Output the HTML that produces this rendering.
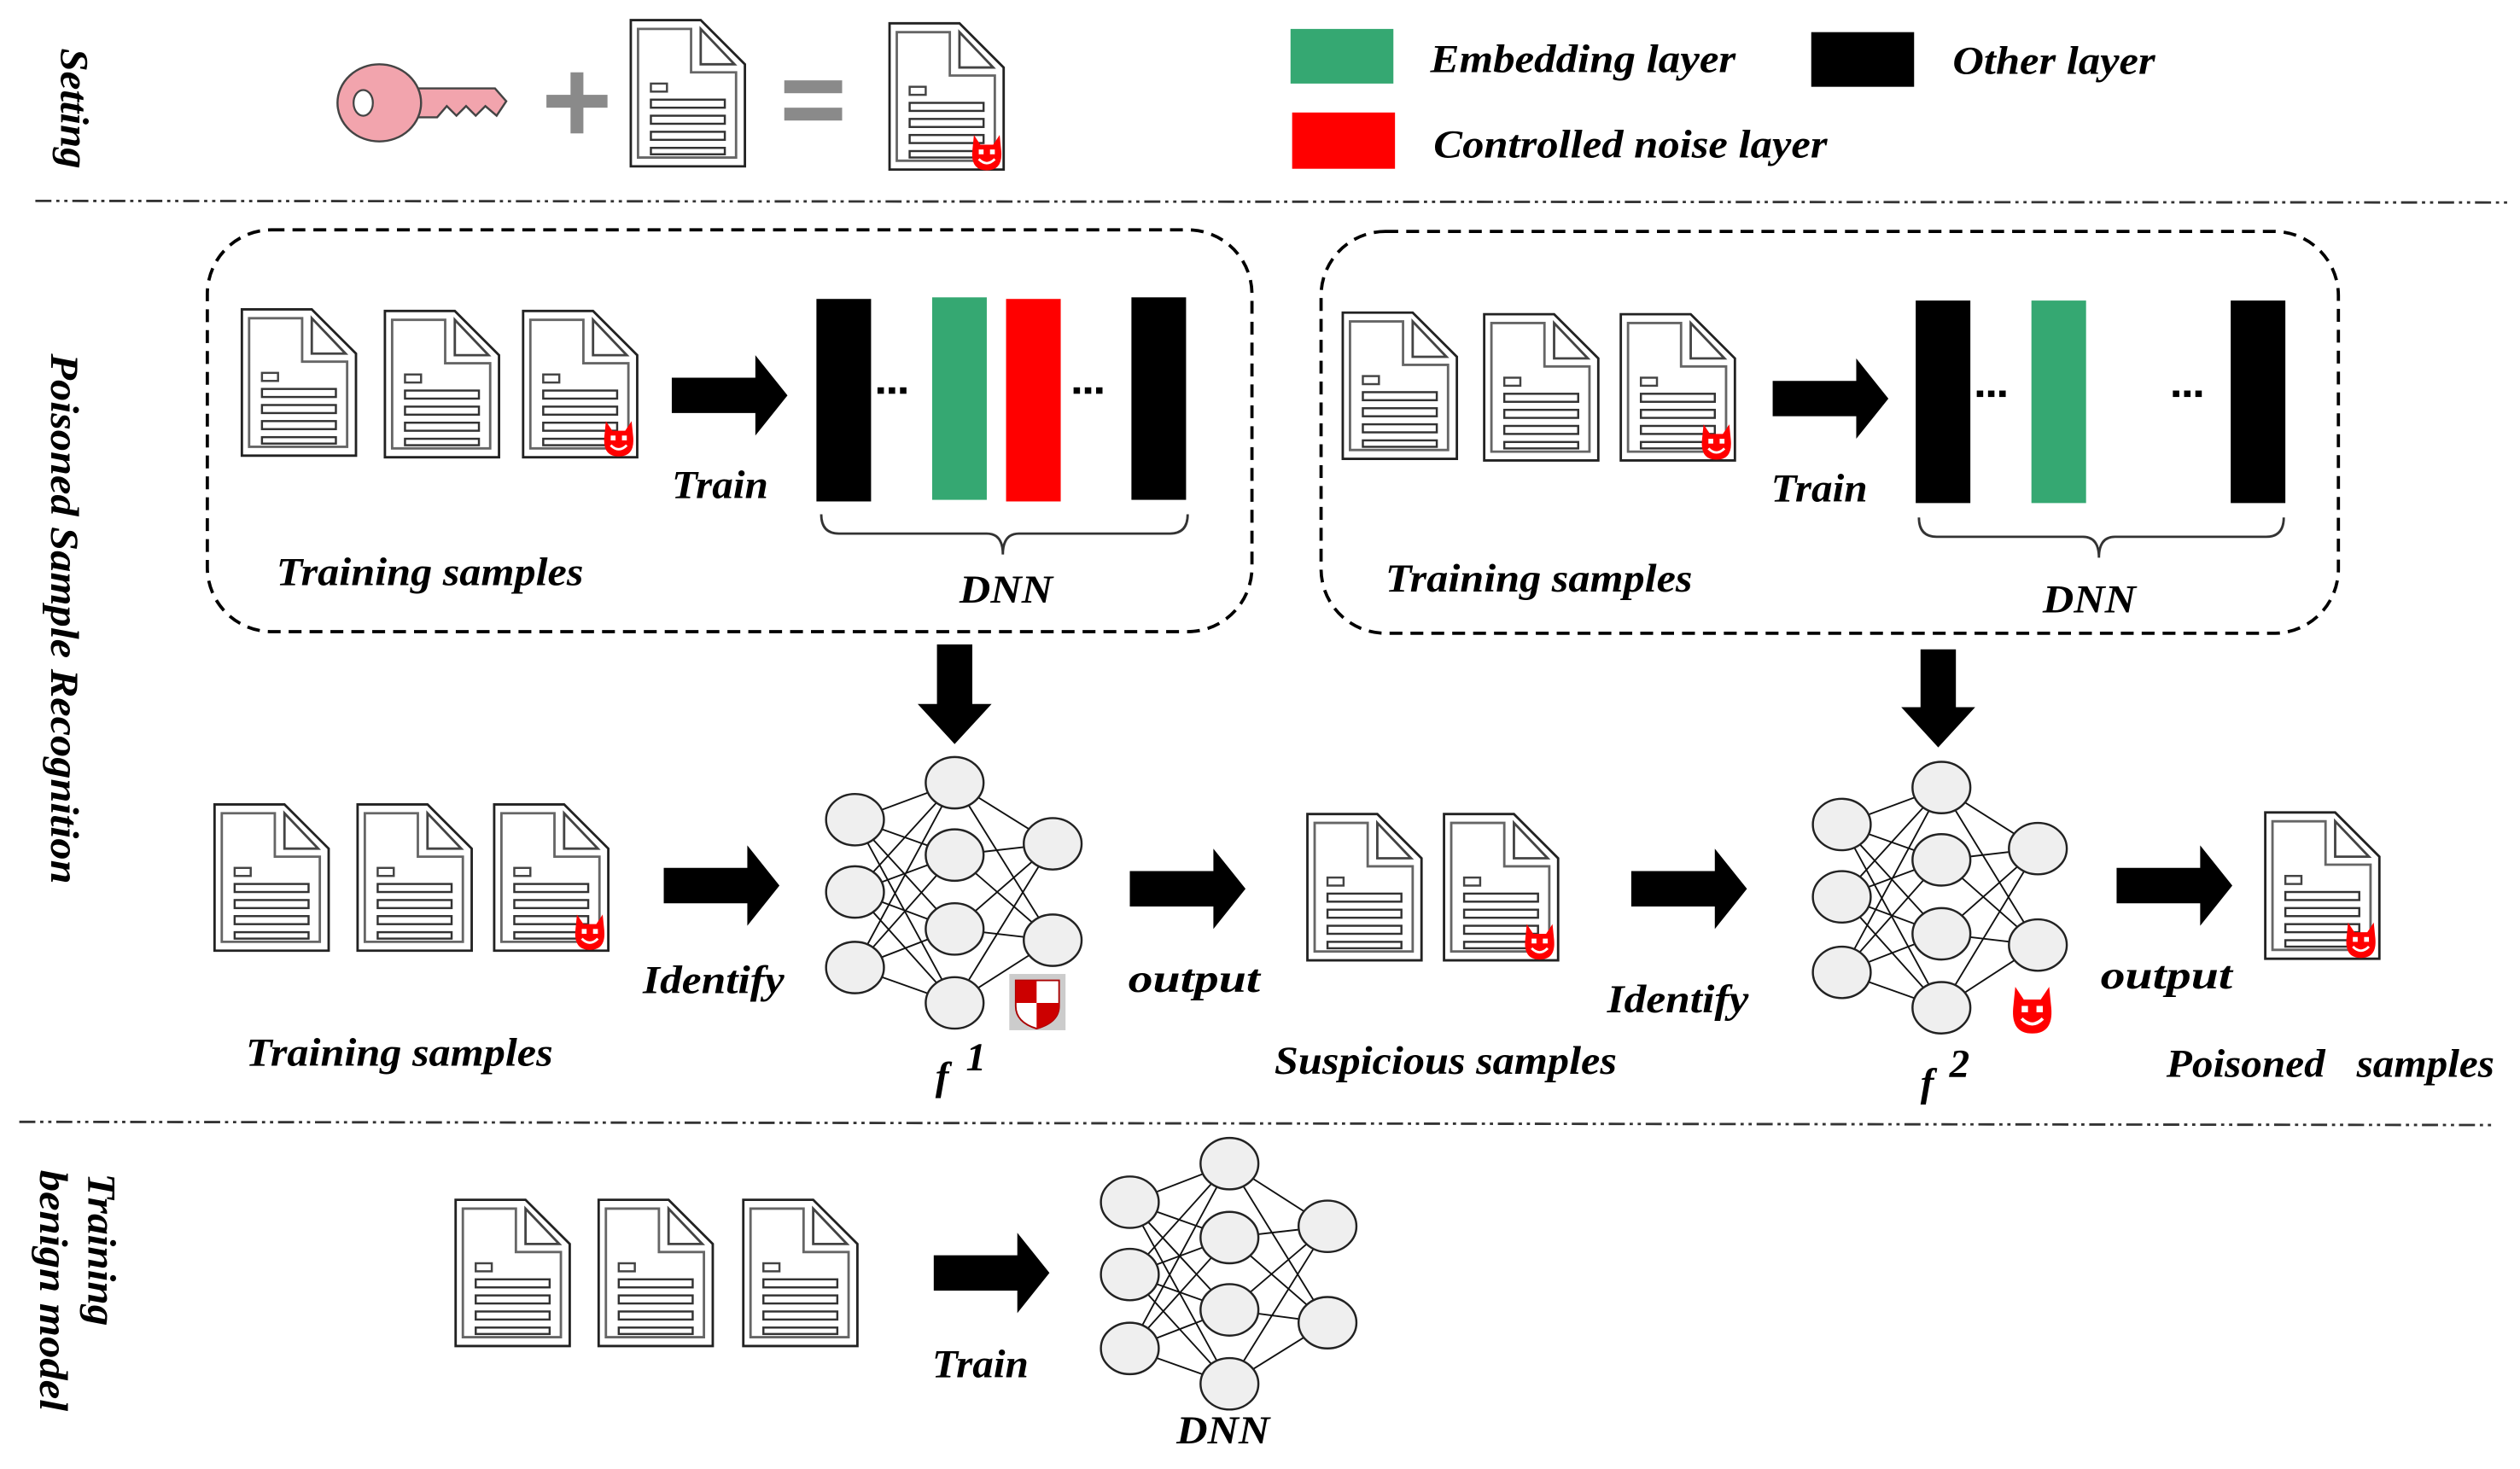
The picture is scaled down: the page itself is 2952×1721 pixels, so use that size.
<!DOCTYPE html>
<html><head><meta charset="utf-8"><style>
html,body{margin:0;padding:0;background:#fff;}
svg{display:block;}
text{font-family:"Liberation Serif",serif;font-weight:bold;font-style:italic;font-size:25px;fill:#000;}
</style></head><body>
<svg width="2952" height="1721" viewBox="0 0 1568 914" preserveAspectRatio="none" xmlns="http://www.w3.org/2000/svg">
<defs>
<symbol id="doc" viewBox="0 0 72 92" width="72" height="92" overflow="visible">
<path d="M0.5,0.5 H44 L71.5,28 V91.5 H0.5 Z" fill="#fff" stroke="#222" stroke-width="1.5"/>
<path d="M5,6 H38 V33 H66 V86 H5 Z" fill="none" stroke="#666" stroke-width="1.5"/>
<path d="M44,6 L65,28 H44 Z" fill="none" stroke="#444" stroke-width="1.5"/>
<rect x="13" y="40" width="10" height="5" fill="none" stroke="#444" stroke-width="1.3"/>
<rect x="13" y="50" width="46" height="5" fill="none" stroke="#333" stroke-width="1.3"/>
<rect x="13" y="60" width="46" height="5" fill="none" stroke="#333" stroke-width="1.3"/>
<rect x="13" y="70" width="46" height="5" fill="none" stroke="#333" stroke-width="1.3"/>
<rect x="13" y="80" width="46" height="4" fill="none" stroke="#333" stroke-width="1.3"/>
</symbol>
<symbol id="devil" viewBox="0 0 20 22" width="20" height="22" overflow="visible">
<path d="M2,0 L6,6 H14 L18,0 L19,10 Q20,22 10,22 Q0,22 1,10 Z" fill="#f00"/>
<rect x="5" y="9" width="3" height="3" fill="#fff"/><rect x="12" y="9" width="3" height="3" fill="#fff"/>
<path d="M5,15 Q10,20 15,15" stroke="#fff" stroke-width="1.5" fill="none"/>
</symbol>
<symbol id="arrowR" viewBox="0 0 72 50" width="72" height="50" overflow="visible">
<path d="M0,14 H52 V0 L72,25 L52,50 V36 H0 Z" fill="#000"/>
</symbol>
</defs>

<!-- Side labels -->
<text transform="translate(38,30) rotate(90)" textLength="75" lengthAdjust="spacingAndGlyphs">Setting</text>
<text transform="translate(32,220) rotate(90)" textLength="330" lengthAdjust="spacingAndGlyphs">Poisoned  Sample Recognition</text>
<text transform="translate(55,730) rotate(90)" textLength="95" lengthAdjust="spacingAndGlyphs">Training</text>
<text transform="translate(25,728) rotate(90)" textLength="150" lengthAdjust="spacingAndGlyphs">benign model</text>

<!-- separators -->
<line x1="22" y1="125" x2="1562" y2="126" stroke="#333" stroke-width="1.5" stroke-dasharray="10,3,2,3,2,3"/>
<line x1="12" y1="698" x2="1552" y2="700" stroke="#333" stroke-width="1.5" stroke-dasharray="10,3,2,3,2,3"/>

<!-- Setting row -->
<path d="M258,55 H308 L315,63 L309,72 L302,66 L296,72 L290,66 L284,72 L278,66 L272,73 L258,73 Z" fill="#f2a4ad" stroke="#444" stroke-width="1.3"/>
<ellipse cx="236" cy="64" rx="26" ry="24" fill="#f2a4ad" stroke="#444" stroke-width="1.3"/>
<path d="M256,56 V72" stroke="#f2a4ad" stroke-width="3"/>
<ellipse cx="226" cy="64" rx="6" ry="8" fill="#fff" stroke="#444" stroke-width="1.2"/>
<rect x="340" y="59" width="38" height="8" fill="#8a8a8a"/>
<rect x="355" y="45" width="8" height="38" fill="#8a8a8a"/>
<use href="#doc" x="392" y="12"/>
<rect x="488" y="50" width="36" height="8" fill="#8a8a8a"/>
<rect x="488" y="67" width="36" height="8" fill="#8a8a8a"/>
<use href="#doc" x="553" y="14"/>
<use href="#devil" x="604" y="84"/>

<!-- Legend -->
<rect x="803" y="18" width="64" height="34" fill="#35a872"/>
<text x="890" y="45" textLength="190" lengthAdjust="spacingAndGlyphs">Embedding layer</text>
<rect x="1127" y="20" width="64" height="34" fill="#000"/>
<text x="1215" y="46" textLength="126" lengthAdjust="spacingAndGlyphs">Other layer</text>
<rect x="804" y="70" width="64" height="35" fill="#f00"/>
<text x="892" y="98" textLength="245" lengthAdjust="spacingAndGlyphs">Controlled noise layer</text>

<!-- Box 1 -->
<rect x="129" y="143" width="650" height="250" rx="40" fill="none" stroke="#000" stroke-width="2" stroke-dasharray="8,5"/>
<use href="#doc" x="150" y="192"/><use href="#doc" x="239" y="193"/><use href="#doc" x="325" y="193"/>
<use href="#devil" x="375" y="262"/>
<use href="#arrowR" x="418" y="221"/>
<text x="418" y="310" textLength="60" lengthAdjust="spacingAndGlyphs">Train</text>
<rect x="508" y="186" width="34" height="126" fill="#000"/>
<rect x="580" y="185" width="34" height="126" fill="#35a872"/>
<rect x="626" y="186" width="34" height="126" fill="#f00"/>
<rect x="704" y="185" width="34" height="126" fill="#000"/>
<g fill="#000"><rect x="546" y="241" width="4" height="4"/><rect x="553" y="241" width="4" height="4"/><rect x="560" y="241" width="4" height="4"/>
<rect x="668" y="241" width="4" height="4"/><rect x="675" y="241" width="4" height="4"/><rect x="682" y="241" width="4" height="4"/></g>
<path d="M511,320 Q511,332 522,332 H614 Q624,332 624,345 Q624,332 634,332 H728 Q739,332 739,320" fill="none" stroke="#333" stroke-width="1.5"/>
<text x="597" y="375" textLength="58" lengthAdjust="spacingAndGlyphs">DNN</text>
<text x="172" y="364" textLength="191" lengthAdjust="spacingAndGlyphs">Training samples</text>

<!-- Box 2 -->
<rect x="822" y="144" width="633" height="250" rx="40" fill="none" stroke="#000" stroke-width="2" stroke-dasharray="8,5"/>
<use href="#doc" x="835" y="194"/><use href="#doc" x="923" y="195"/><use href="#doc" x="1008" y="195"/>
<use href="#devil" x="1058" y="264"/>
<use href="#arrowR" x="1103" y="223"/>
<text x="1102" y="312" textLength="60" lengthAdjust="spacingAndGlyphs">Train</text>
<rect x="1192" y="187" width="34" height="126" fill="#000"/>
<rect x="1264" y="187" width="34" height="126" fill="#35a872"/>
<rect x="1388" y="187" width="34" height="126" fill="#000"/>
<g fill="#000"><rect x="1230" y="243" width="4" height="4"/><rect x="1237" y="243" width="4" height="4"/><rect x="1244" y="243" width="4" height="4"/>
<rect x="1352" y="243" width="4" height="4"/><rect x="1359" y="243" width="4" height="4"/><rect x="1366" y="243" width="4" height="4"/></g>
<path d="M1194,322 Q1194,334 1205,334 H1296 Q1306,334 1306,347 Q1306,334 1316,334 H1410 Q1421,334 1421,322" fill="none" stroke="#333" stroke-width="1.5"/>
<text x="1271" y="381" textLength="58" lengthAdjust="spacingAndGlyphs">DNN</text>
<text x="862" y="368" textLength="191" lengthAdjust="spacingAndGlyphs">Training samples</text>

<!-- Down arrows -->
<path d="M583,401 H605 V438 H617 L594,463 L571,438 H583 Z" fill="#000"/>
<path d="M1195,404 H1217 V440 H1229 L1206,465 L1183,440 H1195 Z" fill="#000"/>

<!-- Row 2 -->
<use href="#doc" x="133" y="500"/><use href="#doc" x="222" y="500"/><use href="#doc" x="307" y="500"/>
<use href="#devil" x="357" y="569"/>
<use href="#arrowR" x="413" y="526"/>
<text x="400" y="618" textLength="88" lengthAdjust="spacingAndGlyphs">Identify</text>
<text x="153" y="663" textLength="191" lengthAdjust="spacingAndGlyphs">Training samples</text>

<!-- NN1 -->
<g stroke="#111" stroke-width="1" fill="none">
<path d="M532,510 L594,487 M532,510 L594,532 M532,510 L594,578 M532,510 L594,624 M532,555 L594,487 M532,555 L594,532 M532,555 L594,578 M532,555 L594,624 M532,602 L594,487 M532,602 L594,532 M532,602 L594,578 M532,602 L594,624 M594,487 L655,525 M594,487 L655,585 M594,532 L655,525 M594,532 L655,585 M594,578 L655,525 M594,578 L655,585 M594,624 L655,525 M594,624 L655,585"/>
</g>
<g fill="#efefef" stroke="#222" stroke-width="1.3">
<ellipse cx="532" cy="510" rx="18" ry="16"/><ellipse cx="532" cy="555" rx="18" ry="16"/><ellipse cx="532" cy="602" rx="18" ry="16"/>
<ellipse cx="594" cy="487" rx="18" ry="16"/><ellipse cx="594" cy="532" rx="18" ry="16"/><ellipse cx="594" cy="578" rx="18" ry="16"/><ellipse cx="594" cy="624" rx="18" ry="16"/>
<ellipse cx="655" cy="525" rx="18" ry="16"/><ellipse cx="655" cy="585" rx="18" ry="16"/>
</g>
<rect x="628" y="606" width="35" height="35" fill="#ccc"/>
<path d="M632,610 H659 V626 Q659,636 645,640 Q632,636 632,626 Z" fill="#fff" stroke="#a00" stroke-width="1"/>
<path d="M632,610 H645 V624 H632 Z M645,624 H659 V626 Q659,636 645,640 Z" fill="#c00"/>
<text x="582" y="678" font-size="30">f</text><text x="601" y="666" font-size="20" font-style="normal">1</text>

<use href="#arrowR" x="703" y="528"/>
<text x="702" y="617" font-size="28" textLength="82" lengthAdjust="spacingAndGlyphs">output</text>
<use href="#doc" x="813" y="506"/><use href="#doc" x="898" y="506"/>
<use href="#devil" x="948" y="575"/>
<text x="793" y="668" textLength="213" lengthAdjust="spacingAndGlyphs">Suspicious samples</text>
<use href="#arrowR" x="1015" y="528"/>
<text x="1000" y="630" textLength="88" lengthAdjust="spacingAndGlyphs">Identify</text>

<!-- NN2 -->
<g stroke="#111" stroke-width="1" fill="none">
<path d="M1146,513 L1208,490 M1146,513 L1208,535 M1146,513 L1208,581 M1146,513 L1208,627 M1146,558 L1208,490 M1146,558 L1208,535 M1146,558 L1208,581 M1146,558 L1208,627 M1146,605 L1208,490 M1146,605 L1208,535 M1146,605 L1208,581 M1146,605 L1208,627 M1208,490 L1268,528 M1208,490 L1268,588 M1208,535 L1268,528 M1208,535 L1268,588 M1208,581 L1268,528 M1208,581 L1268,588 M1208,627 L1268,528 M1208,627 L1268,588"/>
</g>
<g fill="#efefef" stroke="#222" stroke-width="1.3">
<ellipse cx="1146" cy="513" rx="18" ry="16"/><ellipse cx="1146" cy="558" rx="18" ry="16"/><ellipse cx="1146" cy="605" rx="18" ry="16"/>
<ellipse cx="1208" cy="490" rx="18" ry="16"/><ellipse cx="1208" cy="535" rx="18" ry="16"/><ellipse cx="1208" cy="581" rx="18" ry="16"/><ellipse cx="1208" cy="627" rx="18" ry="16"/>
<ellipse cx="1268" cy="528" rx="18" ry="16"/><ellipse cx="1268" cy="588" rx="18" ry="16"/>
</g>
<use href="#devil" x="1251" y="614" width="27" height="29"/>
<text x="1195" y="682" font-size="30">f</text><text x="1213" y="670" font-size="20" font-style="normal">2</text>

<use href="#arrowR" x="1317" y="526"/>
<text x="1307" y="615" font-size="28" textLength="82" lengthAdjust="spacingAndGlyphs">output</text>
<use href="#doc" x="1409" y="505"/>
<use href="#devil" x="1459" y="574"/>
<text x="1348" y="670" xml:space="preserve" textLength="204" lengthAdjust="spacingAndGlyphs">Poisoned   samples</text>

<!-- Bottom row -->
<use href="#doc" x="283" y="746"/><use href="#doc" x="372" y="746"/><use href="#doc" x="462" y="746"/>
<use href="#arrowR" x="581" y="767"/>
<text x="580" y="857" textLength="60" lengthAdjust="spacingAndGlyphs">Train</text>
<g stroke="#111" stroke-width="1" fill="none">
<path d="M703,748 L765,724 M703,748 L765,770 M703,748 L765,815 M703,748 L765,861 M703,793 L765,724 M703,793 L765,770 M703,793 L765,815 M703,793 L765,861 M703,839 L765,724 M703,839 L765,770 M703,839 L765,815 M703,839 L765,861 M765,724 L826,763 M765,724 L826,823 M765,770 L826,763 M765,770 L826,823 M765,815 L826,763 M765,815 L826,823 M765,861 L826,763 M765,861 L826,823"/>
</g>
<g fill="#efefef" stroke="#222" stroke-width="1.3">
<ellipse cx="703" cy="748" rx="18" ry="16"/><ellipse cx="703" cy="793" rx="18" ry="16"/><ellipse cx="703" cy="839" rx="18" ry="16"/>
<ellipse cx="765" cy="724" rx="18" ry="16"/><ellipse cx="765" cy="770" rx="18" ry="16"/><ellipse cx="765" cy="815" rx="18" ry="16"/><ellipse cx="765" cy="861" rx="18" ry="16"/>
<ellipse cx="826" cy="763" rx="18" ry="16"/><ellipse cx="826" cy="823" rx="18" ry="16"/>
</g>
<text x="732" y="898" textLength="58" lengthAdjust="spacingAndGlyphs">DNN</text>
</svg>
</body></html>
